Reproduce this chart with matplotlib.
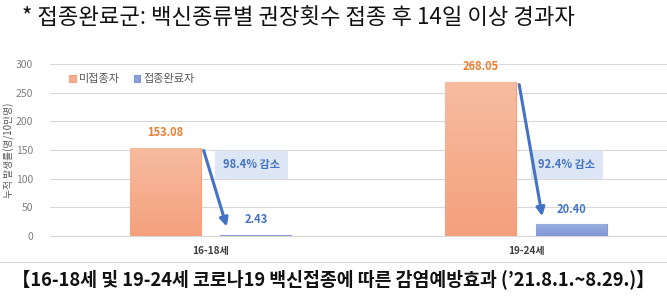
import matplotlib
matplotlib.use("Agg")
import matplotlib.pyplot as plt
import numpy as np
from matplotlib.colors import LinearSegmentedColormap

plt.rcParams['font.family'] = ['Noto Sans CJK KR', 'DejaVu Sans']

categories = ['16-18세', '19-24세']
unvaccinated = [153.08, 268.05]
vaccinated = [2.43, 20.40]
reductions = ['98.4% 감소', '92.4% 감소']
series_names = ['미접종자', '접종완료자']
yticks = [0, 50, 100, 150, 200, 250, 300]
title_text = '* 접종완료군: 백신종류별 권장횟수 접종 후 14일 이상 경과자'
caption_text = '【16-18세 및 19-24세 코로나19 백신접종에 따른 감염예방효과 (\u201921.8.1.~8.29.)】'
ylabel_text = '누적 발생률(명/10만명)'

W, H = 667, 303
fig = plt.figure(figsize=(W / 100, H / 100), dpi=100)
ax = fig.add_axes([50 / W, 1 - 236 / H, 617 / W, 172 / H])

x = np.arange(len(categories))
bw = 0.225
off = 0.144

orange_edge = '#F4A07A'
blue_edge = '#7F96D4'
b1 = ax.bar(x - off, unvaccinated, bw, color='#F5AE8E', edgecolor=orange_edge, linewidth=0.8,
            label=series_names[0], zorder=3)
b2 = ax.bar(x + off, vaccinated, bw, color='#8CA0DA', edgecolor=blue_edge, linewidth=0.8,
            label=series_names[1], zorder=3)

# gradient overlays clipped to bars
cm_o = LinearSegmentedColormap.from_list('o', ['#F4A07C', '#F7BCA0'])
cm_b = LinearSegmentedColormap.from_list('b', ['#8096D6', '#9AAEE0'])
grad = np.linspace(0, 1, 256).reshape(-1, 1)
for bars, cm in ((b1, cm_o), (b2, cm_b)):
    for p in bars:
        x0, y0 = p.get_x(), p.get_y()
        w, h = p.get_width(), p.get_height()
        im = ax.imshow(grad, cmap=cm, origin='lower', aspect='auto',
                       extent=[x0, x0 + w, y0, y0 + h], zorder=3.5)
        im.set_clip_path(p)

ax.set_xlim(-0.5087, 1.447)
ax.set_ylim(0, 300)
ax.set_yticks(yticks)
ax.grid(axis='y', color='#D9D9D9', linewidth=0.8, zorder=0)
for s in ['top', 'right', 'left']:
    ax.spines[s].set_visible(False)
ax.spines['bottom'].set_color('#D9D9D9')
ax.spines['bottom'].set_linewidth(0.8)
ax.tick_params(axis='y', length=0, labelsize=7.5, labelcolor='#7F7F7F', pad=12)
ax.tick_params(axis='x', length=0, labelsize=7.2, labelcolor='#404040', pad=7)
ax.set_xticks(x)
ax.set_xticklabels(categories, fontweight='bold')
ax.set_ylabel(ylabel_text, fontsize=7, color='#595959', va='center')
ax.yaxis.set_label_coords(-41 / 617, 0.5)

# value labels
for i in range(len(categories)):
    ax.annotate(f'{unvaccinated[i]:.2f}', (x[i] - off, unvaccinated[i]), xytext=(0, 7),
                textcoords='offset points', ha='center', va='bottom', fontsize=8,
                fontweight='bold', color='#ED7D31', zorder=5)
    ax.annotate(f'{vaccinated[i]:.2f}', (x[i] + off, vaccinated[i]), xytext=(0, 6),
                textcoords='offset points', ha='center', va='bottom', fontsize=8,
                fontweight='bold', color='#4472C4', zorder=5)

# arrows and reduction boxes
for i in range(len(categories)):
    start = (x[i] - off + bw / 2 + 0.01, unvaccinated[i] - 4)
    end = (x[i] + off - bw / 2 + 0.02, vaccinated[i] + 14)
    ax.annotate('', xy=end, xytext=start,
                arrowprops=dict(arrowstyle='-|>,head_length=0.5,head_width=0.25',
                                color='#4472C4', lw=2.2, shrinkA=0, shrinkB=0), zorder=6)

box_y = 124
for i in range(len(categories)):
    ax.text(x[i] + 0.13, box_y, reductions[i], ha='center', va='center', fontsize=8,
            fontweight='bold', color='#4472C4', zorder=5,
            bbox=dict(boxstyle='square,pad=0.7', fc='#DCE6F4', ec='none'))

leg = ax.legend(loc='upper left', bbox_to_anchor=(0.015, 1.0), ncol=2, frameon=False,
                fontsize=8, handlelength=0.6, handleheight=0.6, handletextpad=0.3,
                columnspacing=1.2, labelcolor='#595959')

fig.text(22 / W, 1 - 18 / H, title_text, fontsize=16, fontweight='light', color='#111111',
         ha='left', va='center')
fig.add_artist(plt.Line2D([0, 1], [1 - 262 / H, 1 - 262 / H], color='#D9D9D9', lw=0.8))
fig.text(0.5, 1 - 279 / H, caption_text, fontsize=13.2, fontweight='bold', color='#111111',
         ha='center', va='center')

fig.savefig('out.png', dpi=100)
